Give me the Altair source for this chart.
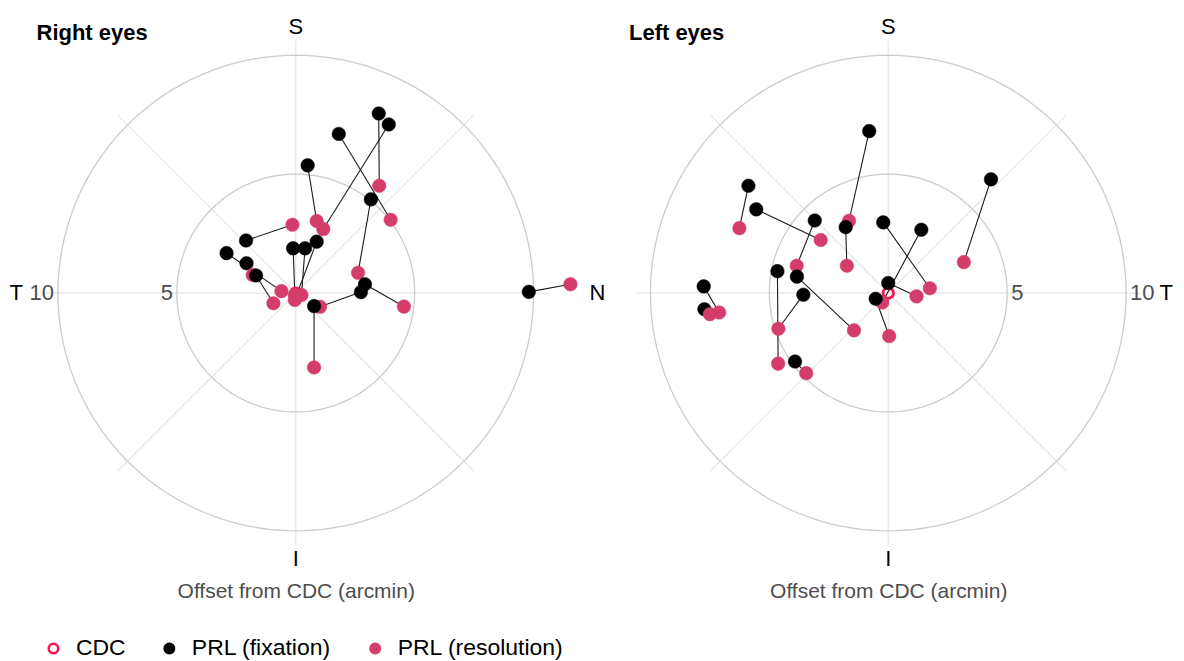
import altair as alt
import numpy as np
import pandas as pd

# ---------------- data (arcmin; +x = right of plot, +y = up) ----------------
# Right eyes: PRL (fixation) -> PRL (resolution), one pair per eye
right_fix_x = [3.49, 3.91, 1.81, 0.50, 3.16, -2.09, -0.11, 0.39, 0.88, -2.91, -2.07, -1.67, 2.91, 2.74, 0.77, 9.80]
right_fix_y = [7.55, 7.09, 6.69, 5.37, 3.94, 2.21, 1.88, 1.88, 2.16, 1.68, 1.25, 0.74, 0.37, 0.04, -0.55, 0.05]
right_res_x = [3.51, 1.16, 3.99, 0.88, 2.62, -0.14, -0.04, 0.24, -0.04, -0.60, -1.81, -0.94, 4.55, 1.02, 0.77, 11.55]
right_res_y = [4.51, 2.69, 3.08, 3.03, 0.85, 2.87, -0.08, -0.08, -0.29, 0.08, 0.76, -0.43, -0.57, -0.58, -3.13, 0.37]

# Left eyes
left_fix_x = [-0.80, -5.88, -5.55, -3.09, -1.79, -0.21, 1.39, 4.32, -4.66, -3.84, -3.57, -7.76, -7.73, 0.00, -0.53, -3.92]
left_fix_y = [6.81, 4.51, 3.52, 3.05, 2.77, 2.97, 2.66, 4.78, 0.92, 0.69, -0.07, 0.28, -0.68, 0.42, -0.24, -2.88]
left_res_x = [-1.65, -6.26, -2.84, -3.85, -1.74, 1.75, -0.25, 3.18, -4.63, -1.44, -4.62, -7.11, -7.50, 1.19, 0.04, -3.45]
left_res_y = [3.04, 2.73, 2.23, 1.15, 1.15, 0.20, -0.40, 1.30, -2.97, -1.57, -1.50, -0.82, -0.89, -0.14, -1.81, -3.37]

cdc_x = [0.0]
cdc_y = [0.0]

types = ["CDC", "PRL (fixation)", "PRL (resolution)"]
grid_radii = [5, 10]
grid_labels = ["5", "10"]
spoke_angles = [0, 45, 90, 135, 180, 225, 270, 315]

# ---------------- layout / style ----------------
SPOKE_LEN = 10.6
XMAX, YMAX = 12.1, 11.975
W, H = 576, 570
FONT = "Liberation Sans"
RED = "#d43d6a"
CDC_RED = "#f5134b"

xs = alt.Scale(domain=[-XMAX, XMAX], nice=False, zero=False)
ys = alt.Scale(domain=[-YMAX, YMAX], nice=False, zero=False)
X_AXIS = alt.Axis(title="Offset from CDC (arcmin)", labels=False, ticks=False, domain=False,
                  grid=False, titlePadding=3, titleFontSize=21, titleColor="#4d4d4d",
                  titleFontWeight="normal", titleFont=FONT)
LEGEND = alt.Legend(title=None, orient="none", legendX=34, legendY=629, direction="horizontal",
                    labelFontSize=23, labelFont=FONT, labelColor="#000000", labelLimit=400,
                    symbolSize=90, symbolStrokeWidth=2.5, labelOffset=11, columnPadding=32,
                    symbolType="circle")


def X(f):
    return alt.X(f, type="quantitative", scale=xs, axis=X_AXIS)


def Y(f):
    return alt.Y(f, type="quantitative", scale=ys, axis=None)


def panel(fx, fy, rx, ry, title, side):
    ang = np.arange(0, 361, 2)
    circ = pd.DataFrame([{"r": r, "a": a,
                          "x": r * np.cos(np.radians(a)), "y": r * np.sin(np.radians(a))}
                         for r in grid_radii for a in ang])
    circles = alt.Chart(circ).mark_line(color="#cccccc", strokeWidth=1.3).encode(
        x=X("x"), y=Y("y"), detail="r:N", order="a:Q")

    sp = pd.DataFrame({"a": spoke_angles})
    sp["x0"] = 0.0
    sp["y0"] = 0.0
    sp["x1"] = SPOKE_LEN * np.cos(np.radians(sp["a"]))
    sp["y1"] = SPOKE_LEN * np.sin(np.radians(sp["a"]))
    spokes = alt.Chart(sp).mark_rule(color="#e6e6e6", strokeWidth=1.2).encode(
        x=X("x0"), y=Y("y0"), x2="x1", y2="y1")

    pairs = pd.DataFrame({"fx": fx, "fy": fy, "rx": rx, "ry": ry})
    links = alt.Chart(pairs).mark_rule(color="#1a1a1a", strokeWidth=1.1).encode(
        x=X("fx"), y=Y("fy"), x2="rx", y2="ry")

    rows = [{"x": cdc_x[0], "y": cdc_y[0], "type": types[0]}]
    for a, b, c, d in zip(fx, fy, rx, ry):
        rows.append({"x": a, "y": b, "type": types[1]})
        rows.append({"x": c, "y": d, "type": types[2]})
    pts_df = pd.DataFrame(rows)
    pts = alt.Chart(pts_df).mark_point(filled=False, opacity=1).encode(
        x=X("x"), y=Y("y"),
        stroke=alt.Stroke("type:N", scale=alt.Scale(domain=types, range=[CDC_RED, "#000000", RED]),
                          legend=LEGEND),
        fill=alt.Fill("type:N", scale=alt.Scale(domain=types, range=["transparent", "#000000", RED]),
                      legend=LEGEND),
        strokeWidth=alt.condition("datum.type == 'CDC'", alt.value(2.8), alt.value(0.5)),
        size=alt.condition("datum.type == 'CDC'", alt.value(110), alt.value(185)),
    )

    sgn = -1 if side == "right" else 1
    align = "right" if side == "right" else "left"
    nums = pd.DataFrame({"t": grid_labels, "x": [sgn * r for r in grid_radii], "y": [0.0, 0.0]})
    num_text = alt.Chart(nums).mark_text(align=align, baseline="middle", fontSize=22,
                                         color="#4d4d4d", dx=sgn * 4).encode(
        x=X("x"), y=Y("y"), text="t:N")

    letters = [("S", 0.0, 11.2), ("I", 0.0, -11.2)]
    if side == "right":
        letters += [("T", -11.76, 0.0), ("N", 12.69, 0.0)]
    else:
        letters += [("T", 11.69, 0.0)]
    let_df = pd.DataFrame(letters, columns=["t", "x", "y"])
    let_text = alt.Chart(let_df).mark_text(align="center", baseline="middle", fontSize=22,
                                           color="#000000").encode(
        x=X("x"), y=Y("y"), text="t:N")

    ttl = pd.DataFrame({"t": [title], "x": [-10.9], "y": [10.92]})
    ttl_text = alt.Chart(ttl).mark_text(align="left", baseline="middle", fontSize=22,
                                        fontWeight="bold", color="#000000").encode(
        x=X("x"), y=Y("y"), text="t:N")

    return alt.layer(spokes, circles, links, pts, num_text, let_text, ttl_text).properties(
        width=W, height=H)


right = panel(right_fix_x, right_fix_y, right_res_x, right_res_y, "Right eyes", "right")
left = panel(left_fix_x, left_fix_y, left_res_x, left_res_y, "Left eyes", "left")

chart = alt.hconcat(right, left, spacing=17, bounds="flush").resolve_scale(
    stroke="shared", fill="shared").properties(padding=0).configure(
    font=FONT).configure_view(stroke=None)

chart.save("out.html", embed_options={"renderer": "svg", "actions": False})
